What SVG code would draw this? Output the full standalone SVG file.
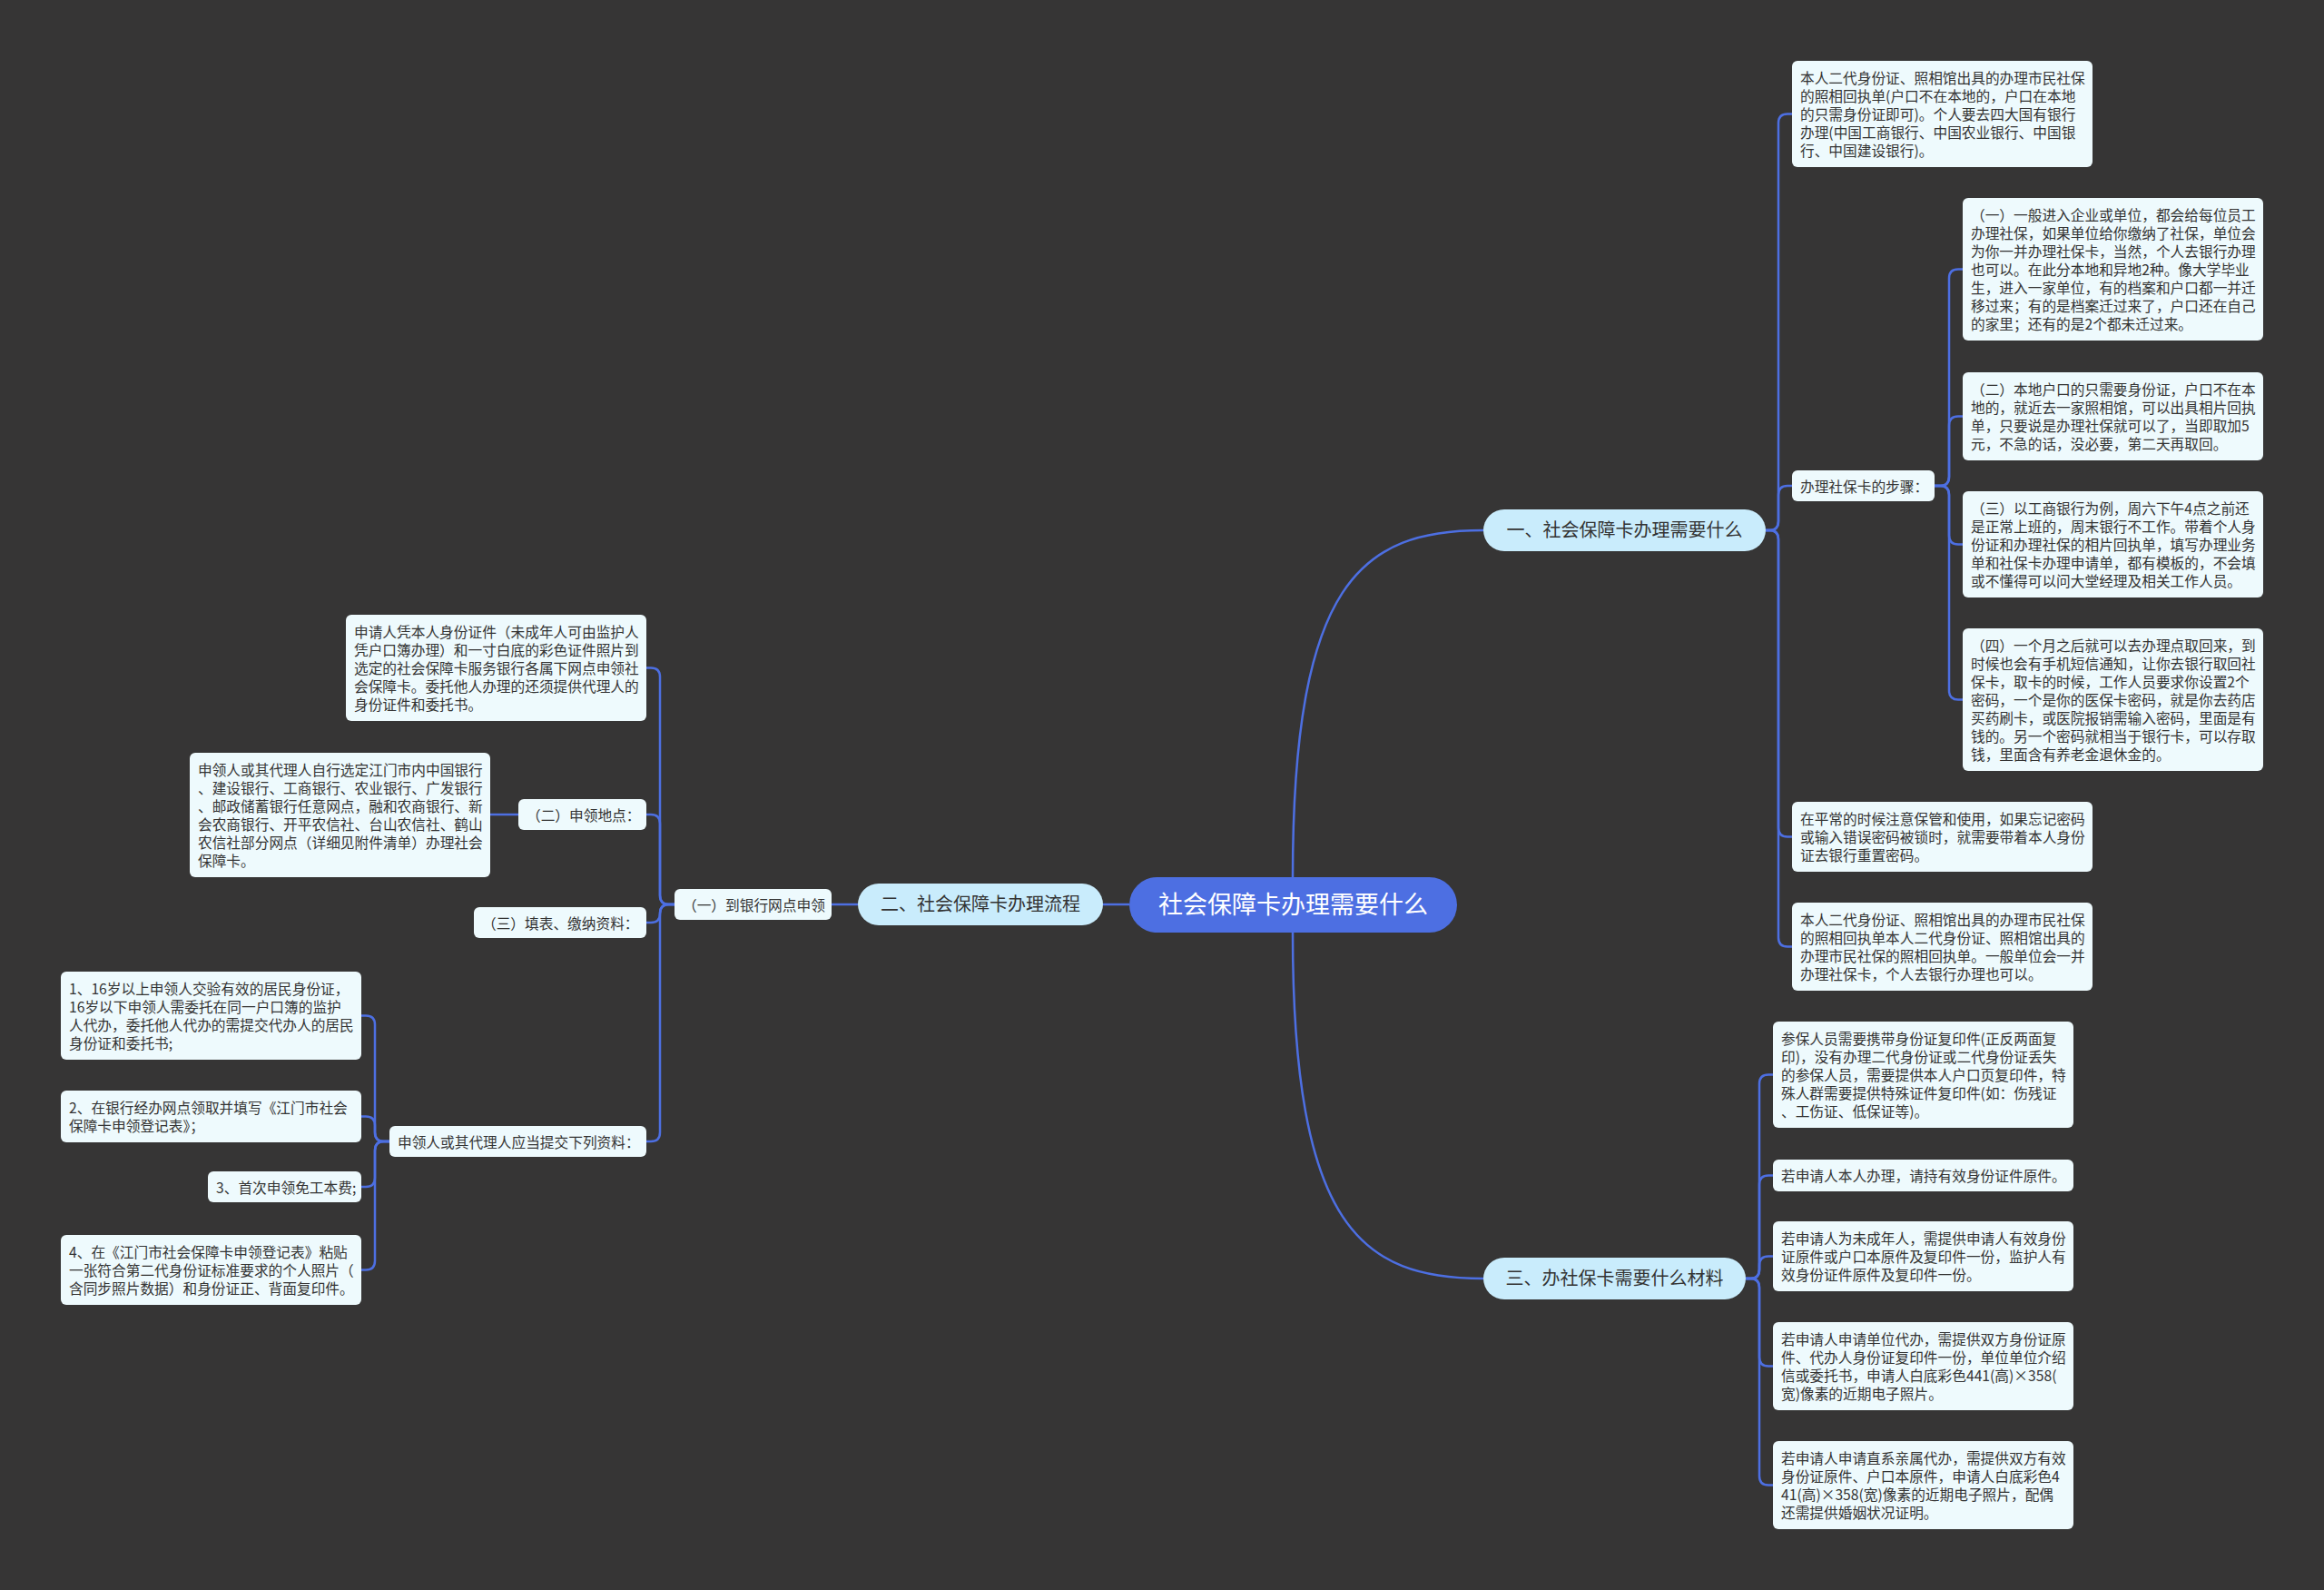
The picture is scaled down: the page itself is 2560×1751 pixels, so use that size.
<svg xmlns="http://www.w3.org/2000/svg" width="2560" height="1751" viewBox="0 0 2560 1751">
<style>
.bg{fill:#363535}
.leaf rect{fill:#eefafd}
.br rect{fill:#c9ecfc}
.root rect{fill:#4d6fe2}
text{font-family:"Noto Sans CJK SC","Microsoft YaHei",sans-serif;fill:#333333}
.t{font-size:15.7px}
.bt{font-size:20px;text-anchor:middle}
.rt{font-size:27px;text-anchor:middle;fill:#ffffff}
#connectors path{fill:none;stroke:#4d6fe2;stroke-width:2.5}
</style>
<rect class="bg" x="0" y="0" width="2560" height="1751"/>
<g id="connectors">
<path d="M1244,996 L1215,996"/>
<path d="M1424,967 C1424,640 1500,584 1634,584"/>
<path d="M1424,1027 C1424,1352 1500,1408 1634,1408"/>
<path d="M1945,584 L1949,584 Q1959,584 1959,574 L1959,135.5 Q1959,125.5 1969,125.5 L1974,125.5"/>
<path d="M1945,584 L1949,584 Q1959,584 1959,574 L1959,545 Q1959,535 1969,535 L1974,535"/>
<path d="M1945,584 L1949,584 Q1959,584 1959,594 L1959,911.5 Q1959,921.5 1969,921.5 L1974,921.5"/>
<path d="M1945,584 L1949,584 Q1959,584 1959,594 L1959,1032.5 Q1959,1042.5 1969,1042.5 L1974,1042.5"/>
<path d="M2131,535 L2137,535 Q2147,535 2147,525 L2147,306.5 Q2147,296.5 2157,296.5 L2162,296.5"/>
<path d="M2131,535 L2137,535 Q2147,535 2147,525 L2147,468.5 Q2147,458.5 2157,458.5 L2162,458.5"/>
<path d="M2131,535 L2137,535 Q2147,535 2147,545 L2147,589.5 Q2147,599.5 2157,599.5 L2162,599.5"/>
<path d="M2131,535 L2137,535 Q2147,535 2147,545 L2147,760.5 Q2147,770.5 2157,770.5 L2162,770.5"/>
<path d="M1923,1408 L1928,1408 Q1938,1408 1938,1398 L1938,1193.5 Q1938,1183.5 1948,1183.5 L1953,1183.5"/>
<path d="M1923,1408 L1928,1408 Q1938,1408 1938,1398 L1938,1304.5 Q1938,1294.5 1948,1294.5 L1953,1294.5"/>
<path d="M1923,1408 L1928,1408 Q1938,1408 1938,1398 L1938,1393.5 Q1938,1383.5 1948,1383.5 L1953,1383.5"/>
<path d="M1923,1408 L1928,1408 Q1938,1408 1938,1418 L1938,1494.5 Q1938,1504.5 1948,1504.5 L1953,1504.5"/>
<path d="M1923,1408 L1928,1408 Q1938,1408 1938,1418 L1938,1625.5 Q1938,1635.5 1948,1635.5 L1953,1635.5"/>
<path d="M945,996 L916,996"/>
<path d="M743,996 L737,996 Q727,996 727,986 L727,745.5 Q727,735.5 717,735.5 L712,735.5"/>
<path d="M743,996 L737,996 Q727,996 727,986 L727,907 Q727,897 717,897 L712,897"/>
<path d="M743,996 L737,996 Q727,996 727,1006 Q727,1016 717,1016 L712,1016"/>
<path d="M743,996 L737,996 Q727,996 727,1006 L727,1247 Q727,1257 717,1257 L712,1257"/>
<path d="M571,897 L540,897"/>
<path d="M429,1257 L423,1257 Q413,1257 413,1247 L413,1128.5 Q413,1118.5 403,1118.5 L398,1118.5"/>
<path d="M429,1257 L423,1257 Q413,1257 413,1247 L413,1239.5 Q413,1229.5 403,1229.5 L398,1229.5"/>
<path d="M429,1257 L423,1257 Q413,1257 413,1267 L413,1297 Q413,1307 403,1307 L398,1307"/>
<path d="M429,1257 L423,1257 Q413,1257 413,1267 L413,1388.5 Q413,1398.5 403,1398.5 L398,1398.5"/>
</g>

<g id="root" class="root"><rect x="1244" y="966" width="361" height="61" rx="30.5"/><text class="rt" x="1424.5" y="1006">社会保障卡办理需要什么</text></g>

<g id="b1" class="br"><rect x="1634" y="561" width="311" height="46" rx="23"/><text class="bt" x="1789.5" y="591">一、社会保障卡办理需要什么</text></g>
<g id="b2" class="br"><rect x="945" y="973" width="270" height="46" rx="23"/><text class="bt" x="1080" y="1003">二、社会保障卡办理流程</text></g>
<g id="b3" class="br"><rect x="1634" y="1385" width="289" height="46" rx="23"/><text class="bt" x="1778.5" y="1415">三、办社保卡需要什么材料</text></g>

<g id="r1" class="leaf"><rect x="1974" y="67" width="331" height="117" rx="6"/><text class="t" x="1983" y="92"><tspan x="1983">本人二代身份证、照相馆出具的办理市民社保</tspan><tspan x="1983" dy="20">的照相回执单(户口不在本地的，户口在本地</tspan><tspan x="1983" dy="20">的只需身份证即可)。个人要去四大国有银行</tspan><tspan x="1983" dy="20">办理(中国工商银行、中国农业银行、中国银</tspan><tspan x="1983" dy="20">行、中国建设银行)。</tspan></text></g>
<g id="s" class="leaf"><rect x="1974" y="518" width="157" height="34" rx="6"/><text class="t" x="1983" y="542">办理社保卡的步骤：</text></g>
<g id="t1" class="leaf"><rect x="2162" y="218" width="331" height="157" rx="6"/><text class="t" x="2171" y="243"><tspan x="2171">（一）一般进入企业或单位，都会给每位员工</tspan><tspan x="2171" dy="20">办理社保，如果单位给你缴纳了社保，单位会</tspan><tspan x="2171" dy="20">为你一并办理社保卡，当然，个人去银行办理</tspan><tspan x="2171" dy="20">也可以。在此分本地和异地2种。像大学毕业</tspan><tspan x="2171" dy="20">生，进入一家单位，有的档案和户口都一并迁</tspan><tspan x="2171" dy="20">移过来；有的是档案迁过来了，户口还在自己</tspan><tspan x="2171" dy="20">的家里；还有的是2个都未迁过来。</tspan></text></g>
<g id="t2" class="leaf"><rect x="2162" y="410" width="331" height="97" rx="6"/><text class="t" x="2171" y="435"><tspan x="2171">（二）本地户口的只需要身份证，户口不在本</tspan><tspan x="2171" dy="20">地的，就近去一家照相馆，可以出具相片回执</tspan><tspan x="2171" dy="20">单，只要说是办理社保就可以了，当即取加5</tspan><tspan x="2171" dy="20">元，不急的话，没必要，第二天再取回。</tspan></text></g>
<g id="t3" class="leaf"><rect x="2162" y="541" width="331" height="117" rx="6"/><text class="t" x="2171" y="566"><tspan x="2171">（三）以工商银行为例，周六下午4点之前还</tspan><tspan x="2171" dy="20">是正常上班的，周末银行不工作。带着个人身</tspan><tspan x="2171" dy="20">份证和办理社保的相片回执单，填写办理业务</tspan><tspan x="2171" dy="20">单和社保卡办理申请单，都有模板的，不会填</tspan><tspan x="2171" dy="20">或不懂得可以问大堂经理及相关工作人员。</tspan></text></g>
<g id="t4" class="leaf"><rect x="2162" y="692" width="331" height="157" rx="6"/><text class="t" x="2171" y="717"><tspan x="2171">（四）一个月之后就可以去办理点取回来，到</tspan><tspan x="2171" dy="20">时候也会有手机短信通知，让你去银行取回社</tspan><tspan x="2171" dy="20">保卡，取卡的时候，工作人员要求你设置2个</tspan><tspan x="2171" dy="20">密码，一个是你的医保卡密码，就是你去药店</tspan><tspan x="2171" dy="20">买药刷卡，或医院报销需输入密码，里面是有</tspan><tspan x="2171" dy="20">钱的。另一个密码就相当于银行卡，可以存取</tspan><tspan x="2171" dy="20">钱，里面含有养老金退休金的。</tspan></text></g>
<g id="r2" class="leaf"><rect x="1974" y="883" width="331" height="77" rx="6"/><text class="t" x="1983" y="908"><tspan x="1983">在平常的时候注意保管和使用，如果忘记密码</tspan><tspan x="1983" dy="20">或输入错误密码被锁时，就需要带着本人身份</tspan><tspan x="1983" dy="20">证去银行重置密码。</tspan></text></g>
<g id="r3" class="leaf"><rect x="1974" y="994" width="331" height="97" rx="6"/><text class="t" x="1983" y="1019"><tspan x="1983">本人二代身份证、照相馆出具的办理市民社保</tspan><tspan x="1983" dy="20">的照相回执单本人二代身份证、照相馆出具的</tspan><tspan x="1983" dy="20">办理市民社保的照相回执单。一般单位会一并</tspan><tspan x="1983" dy="20">办理社保卡，个人去银行办理也可以。</tspan></text></g>

<g id="m1" class="leaf"><rect x="1953" y="1125" width="331" height="117" rx="6"/><text class="t" x="1962" y="1150"><tspan x="1962">参保人员需要携带身份证复印件(正反两面复</tspan><tspan x="1962" dy="20">印)，没有办理二代身份证或二代身份证丢失</tspan><tspan x="1962" dy="20">的参保人员，需要提供本人户口页复印件，特</tspan><tspan x="1962" dy="20">殊人群需要提供特殊证件复印件(如：伤残证</tspan><tspan x="1962" dy="20">、工伤证、低保证等)。</tspan></text></g>
<g id="m2" class="leaf"><rect x="1953" y="1277" width="331" height="35" rx="6"/><text class="t" x="1962" y="1301">若申请人本人办理，请持有效身份证件原件。</text></g>
<g id="m3" class="leaf"><rect x="1953" y="1345" width="331" height="77" rx="6"/><text class="t" x="1962" y="1370"><tspan x="1962">若申请人为未成年人，需提供申请人有效身份</tspan><tspan x="1962" dy="20">证原件或户口本原件及复印件一份，监护人有</tspan><tspan x="1962" dy="20">效身份证件原件及复印件一份。</tspan></text></g>
<g id="m4" class="leaf"><rect x="1953" y="1456" width="331" height="97" rx="6"/><text class="t" x="1962" y="1481"><tspan x="1962">若申请人申请单位代办，需提供双方身份证原</tspan><tspan x="1962" dy="20">件、代办人身份证复印件一份，单位单位介绍</tspan><tspan x="1962" dy="20">信或委托书，申请人白底彩色441(高)×358(</tspan><tspan x="1962" dy="20">宽)像素的近期电子照片。</tspan></text></g>
<g id="m5" class="leaf"><rect x="1953" y="1587" width="331" height="97" rx="6"/><text class="t" x="1962" y="1612"><tspan x="1962">若申请人申请直系亲属代办，需提供双方有效</tspan><tspan x="1962" dy="20">身份证原件、户口本原件，申请人白底彩色4</tspan><tspan x="1962" dy="20">41(高)×358(宽)像素的近期电子照片，配偶</tspan><tspan x="1962" dy="20">还需提供婚姻状况证明。</tspan></text></g>

<g id="l0" class="leaf"><rect x="743" y="979" width="173" height="34" rx="6"/><text class="t" x="752" y="1003">（一）到银行网点申领</text></g>
<g id="la" class="leaf"><rect x="381" y="677" width="331" height="117" rx="6"/><text class="t" x="390" y="702"><tspan x="390">申请人凭本人身份证件（未成年人可由监护人</tspan><tspan x="390" dy="20">凭户口簿办理）和一寸白底的彩色证件照片到</tspan><tspan x="390" dy="20">选定的社会保障卡服务银行各属下网点申领社</tspan><tspan x="390" dy="20">会保障卡。委托他人办理的还须提供代理人的</tspan><tspan x="390" dy="20">身份证件和委托书。</tspan></text></g>
<g id="lb" class="leaf"><rect x="571" y="880" width="141" height="34" rx="6"/><text class="t" x="580" y="904">（二）申领地点：</text></g>
<g id="lb1" class="leaf"><rect x="209" y="829" width="331" height="137" rx="6"/><text class="t" x="218" y="854"><tspan x="218">申领人或其代理人自行选定江门市内中国银行</tspan><tspan x="218" dy="20">、建设银行、工商银行、农业银行、广发银行</tspan><tspan x="218" dy="20">、邮政储蓄银行任意网点，融和农商银行、新</tspan><tspan x="218" dy="20">会农商银行、开平农信社、台山农信社、鹤山</tspan><tspan x="218" dy="20">农信社部分网点（详细见附件清单）办理社会</tspan><tspan x="218" dy="20">保障卡。</tspan></text></g>
<g id="lc" class="leaf"><rect x="522" y="999" width="190" height="34" rx="6"/><text class="t" x="531" y="1023">（三）填表、缴纳资料：</text></g>
<g id="ld" class="leaf"><rect x="429" y="1240" width="283" height="34" rx="6"/><text class="t" x="438" y="1264">申领人或其代理人应当提交下列资料：</text></g>
<g id="ld1" class="leaf"><rect x="67" y="1070" width="331" height="97" rx="6"/><text class="t" x="76" y="1095"><tspan x="76">1、16岁以上申领人交验有效的居民身份证，</tspan><tspan x="76" dy="20">16岁以下申领人需委托在同一户口簿的监护</tspan><tspan x="76" dy="20">人代办，委托他人代办的需提交代办人的居民</tspan><tspan x="76" dy="20">身份证和委托书;</tspan></text></g>
<g id="ld2" class="leaf"><rect x="67" y="1201" width="331" height="57" rx="6"/><text class="t" x="76" y="1226"><tspan x="76">2、在银行经办网点领取并填写《江门市社会</tspan><tspan x="76" dy="20">保障卡申领登记表》；</tspan></text></g>
<g id="ld3" class="leaf"><rect x="229" y="1290" width="169" height="34" rx="6"/><text class="t" x="238" y="1314">3、首次申领免工本费;</text></g>
<g id="ld4" class="leaf"><rect x="67" y="1360" width="331" height="77" rx="6"/><text class="t" x="76" y="1385"><tspan x="76">4、在《江门市社会保障卡申领登记表》粘贴</tspan><tspan x="76" dy="20">一张符合第二代身份证标准要求的个人照片（</tspan><tspan x="76" dy="20">含同步照片数据）和身份证正、背面复印件。</tspan></text></g>
</svg>
